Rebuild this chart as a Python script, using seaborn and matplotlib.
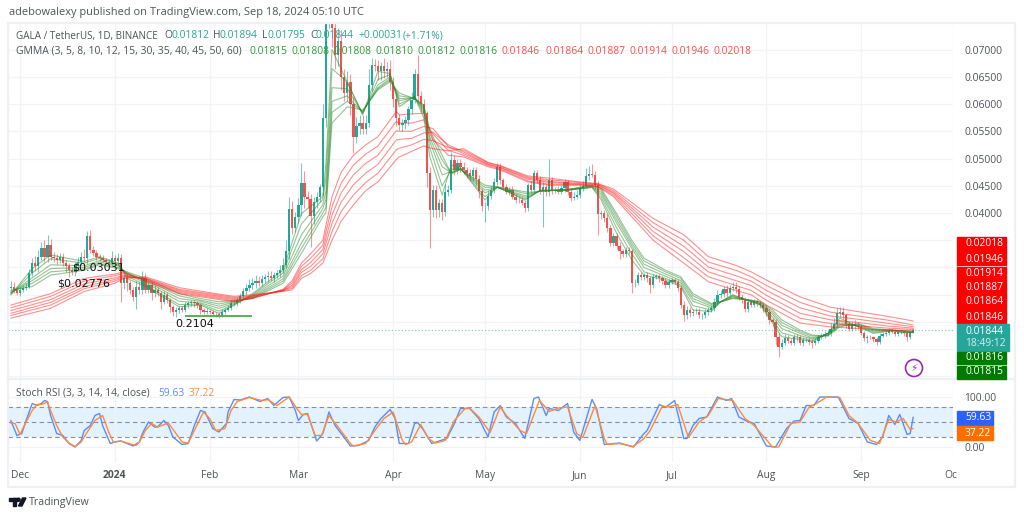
import numpy as np
import pandas as pd
import matplotlib
matplotlib.use('Agg')
import matplotlib.pyplot as plt
from matplotlib.patches import Rectangle, Polygon, Circle
import seaborn as sns

# all prices below are in units of 0.0001, days are counted from 2023-11-28
closes_nov = [265, 259, 253]
closes_dec = [259, 262, 265, 289, 308, 302, 320, 335, 320, 341, 320, 317, 314, 320, 308, 302, 295, 292, 302, 311, 320, 317, 357, 332, 326, 320, 317, 314, 311, 308, 317]
closes_jan = [312, 317, 271, 280, 271, 259, 246, 265, 259, 280, 259, 268, 253, 259, 253, 237, 250, 240, 228, 219, 222, 225, 222, 231, 234, 236, 234, 231, 222, 219, 221]
closes_feb = [218, 215, 214, 212, 218, 222, 226, 235, 234, 240, 248, 256, 262, 268, 272, 276, 272, 278, 282, 285, 280, 286, 290, 296, 305, 330, 408, 372, 392]
closes_mar = [415, 455, 430, 425, 395, 420, 430, 448, 575, 760, 775, 740, 690, 715, 650, 620, 640, 600, 540, 560, 565, 555, 565, 635, 672, 670, 660, 670, 660, 665, 640]
closes_apr = [610, 575, 562, 565, 570, 590, 607, 656, 614, 600, 583, 473, 405, 442, 405, 418, 402, 439, 442, 497, 479, 491, 485, 479, 473, 467, 479, 462, 440, 412]
closes_may = [412, 432, 442, 457, 485, 460, 448, 439, 442, 430, 424, 424, 418, 409, 451, 442, 473, 460, 440, 448, 439, 460, 440, 442, 439, 445, 457, 439, 427, 430, 433]
closes_jun = [445, 450, 467, 472, 470, 452, 399, 400, 390, 372, 345, 358, 340, 330, 325, 333, 330, 272, 272, 286, 283, 286, 280, 268, 283, 284, 280, 276, 268, 274]
closes_jul = [277, 274, 262, 232, 212, 222, 216, 219, 219, 212, 212, 218, 222, 225, 236, 250, 252, 260, 254, 262, 265, 260, 246, 240, 224, 237, 232, 238, 235, 232, 225]
closes_aug = [219, 204, 200, 173, 155, 161, 170, 165, 162, 173, 172, 161, 167, 167, 164, 161, 165, 172, 175, 178, 180, 188, 196, 216, 219, 212, 197, 188, 197, 192, 191]
closes_sep = [180, 170, 173, 172, 168, 163, 175, 178, 180, 184, 182, 178, 182, 182, 180, 172, 181.2, 184.4]

wick_up = ([10, 8, 4]
           + [5, 5, 6, 8, 10, 14, 12, 12, 15, 18, 12, 8, 8, 6, 6, 5, 6, 5, 8, 8, 8, 14, 10, 12, 8, 6, 5, 6, 4, 5, 14]
           + [6, 10, 8, 6, 8, 6, 6, 10, 8, 14, 10, 6, 6, 8, 6, 4, 6, 5, 4, 4, 6, 4, 5, 5, 4, 4, 5, 4, 4, 3, 4]
           + [3, 4, 4, 5, 5, 4, 6, 6, 6, 6, 6, 6, 8, 10, 8, 10, 8, 8, 6, 8, 8, 6, 6, 8, 12, 20, 22, 14, 10]
           + [12, 36, 22, 10, 10, 10, 8, 6, 25, 15, 30, 40, 25, 25, 20, 15, 20, 15, 12, 16, 15, 15, 15, 30, 12, 10, 10, 8, 14, 12, 15]
           + [10, 10, 6, 8, 8, 6, 15, 8, 34, 10, 10, 4, 12, 10, 10, 8, 8, 14, 10, 15, 10, 8, 8, 8, 6, 8, 6, 6, 8, 6]
           + [8, 10, 8, 8, 6, 6, 5, 6, 5, 8, 5, 5, 6, 6, 4, 8, 6, 6, 8, 8, 6, 40, 6, 6, 8, 6, 6, 4, 6, 8, 10]
           + [6, 8, 15, 15, 18, 8, 6, 6, 5, 8, 6, 5, 6, 6, 4, 4, 5, 4, 6, 6, 5, 4, 5, 4, 5, 4, 4, 5, 5, 4]
           + [4, 4, 4, 4, 6, 8, 5, 5, 6, 6, 4, 6, 6, 6, 8, 8, 6, 6, 8, 6, 8, 8, 6, 6, 6, 6, 4, 4, 5, 4, 4]
           + [6, 4, 4, 6, 6, 8, 8, 6, 6, 5, 5, 5, 5, 5, 5, 4, 5, 5, 5, 6, 6, 10, 12, 10, 8, 8, 5, 5, 5, 6, 8]
           + [4, 4, 4, 4, 3, 4, 5, 4, 6, 5, 4, 5, 3, 4, 4, 3, 3, 5])
wick_down = ([6, 5, 3]
             + [6, 4, 4, 3, 5, 8, 10, 6, 10, 10, 6, 6, 8, 5, 6, 10, 12, 6, 8, 6, 6, 6, 10, 5, 5, 6, 5, 4, 5, 5, 5]
             + [6, 6, 34, 10, 14, 8, 8, 22, 8, 8, 6, 6, 12, 8, 6, 14, 4, 6, 10, 8, 10, 6, 4, 4, 6, 4, 6, 6, 8, 4, 4]
             + [4, 3, 4, 4, 2, 3, 2, 4, 5, 4, 5, 6, 6, 6, 8, 10, 6, 6, 6, 8, 4, 6, 5, 8, 6, 6, 14, 10, 6]
             + [10, 20, 20, 15, 57, 15, 10, 10, 15, 18, 20, 35, 25, 20, 25, 15, 15, 20, 30, 12, 15, 10, 10, 8, 12, 10, 15, 15, 12, 10, 15]
             + [15, 15, 10, 12, 10, 8, 8, 6, 10, 14, 10, 25, 70, 12, 15, 12, 15, 8, 8, 6, 10, 8, 10, 8, 8, 8, 8, 10, 12, 8]
             + [28, 6, 6, 5, 6, 6, 4, 4, 6, 4, 6, 6, 4, 8, 6, 6, 6, 5, 6, 65, 8, 8, 6, 4, 4, 4, 6, 6, 5, 4, 4]
             + [6, 5, 4, 6, 4, 8, 39, 10, 6, 6, 6, 6, 6, 14, 6, 5, 6, 19, 8, 5, 6, 6, 6, 15, 5, 5, 6, 6, 6, 5]
             + [4, 5, 6, 6, 10, 6, 6, 5, 5, 5, 6, 4, 5, 4, 4, 4, 6, 6, 8, 5, 6, 6, 6, 6, 6, 6, 5, 5, 5, 6, 6]
             + [8, 8, 10, 16, 19, 4, 4, 4, 5, 4, 6, 4, 5, 4, 6, 8, 4, 4, 4, 4, 4, 6, 4, 6, 6, 6, 8, 5, 5, 5, 4]
             + [4, 4, 8, 4, 4, 5, 4, 3, 4, 3, 3, 4, 4, 4, 5, 6, 3, 1.7])

# GMMA slow group, read at these days
long_days = [0, 13, 24, 34, 37, 44, 55, 66, 73, 79, 89, 92, 95, 98, 102, 105, 108, 112, 116, 120, 126, 127, 131, 135, 138, 143, 148, 156, 160, 169, 176, 186, 192, 197, 204, 210, 220, 228, 237, 242, 247, 258, 268, 277, 286, 295]
ema30 = [231, 252, 280, 288, 292, 275, 252, 243, 237, 243, 260, 276, 308, 325, 350, 430, 475, 506, 525, 540, 586, 580, 582, 583, 535, 506, 503, 485, 479, 457, 451, 451, 448, 430, 387, 350, 308, 274, 258, 250, 231, 198, 191, 188, 185, 184.6]
ema35 = [226, 247, 275, 285, 289, 277, 254, 245, 239, 244, 259, 272, 302, 317, 341, 412, 455, 488, 508, 523, 568, 565, 565, 571, 545, 515, 506, 487, 481, 459, 453, 452, 449, 433, 393, 358, 318, 283, 267, 258, 240, 207, 197, 193, 189, 186.4]
ema40 = [221, 241, 270, 281, 286, 278, 256, 247, 241, 245, 258, 268, 296, 309, 333, 396, 437, 470, 491, 506, 551, 550, 550, 559, 555, 522, 509, 489, 483, 462, 456, 453, 451, 436, 399, 366, 329, 292, 276, 267, 249, 216, 204, 199, 193, 188.7]
ema45 = [216, 236, 265, 278, 284, 280, 258, 249, 243, 247, 258, 265, 291, 302, 325, 381, 420, 452, 473, 489, 534, 535, 537, 547, 548, 525, 512, 490, 484, 464, 458, 454, 452, 438, 404, 374, 339, 301, 285, 275, 258, 226, 211, 205, 198, 191.4]
ema50 = [212, 231, 261, 275, 282, 281, 260, 251, 245, 248, 257, 262, 285, 295, 316, 366, 403, 433, 456, 473, 516, 519, 525, 535, 533, 520, 515, 492, 486, 466, 461, 456, 453, 441, 409, 382, 350, 310, 295, 283, 267, 236, 218, 211, 204, 194.6]
ema60 = [207, 225, 256, 271, 280, 283, 263, 253, 247, 250, 256, 259, 280, 289, 308, 350, 385, 415, 441, 457, 498, 503, 513, 523, 518, 514, 518, 493, 487, 468, 464, 457, 454, 444, 415, 390, 360, 320, 304, 292, 277, 246, 227, 219, 211, 201.8]

# GMMA fast group
short_days = [0, 7, 13, 24, 29, 35, 38, 44, 55, 62, 68, 74, 79, 89, 95, 102, 103, 105, 110, 115, 120, 124, 127, 132, 135, 137, 141, 144, 147, 155, 159, 168, 170, 173, 182, 190, 193, 198, 203, 207, 214, 219, 223, 229, 232, 236, 242, 245, 249, 252, 258, 262, 267, 271, 277, 282, 288, 292, 295]
ema3 = [250, 298, 323, 311, 320, 308, 280, 265, 228, 231, 216, 234, 252, 295, 399, 430, 490, 700, 640, 580, 660, 656, 595, 614, 574, 503, 433, 488, 483, 424, 448, 424, 430, 442, 442, 447, 424, 363, 314, 286, 277, 265, 222, 219, 237, 250, 237, 231, 198, 173, 168, 164, 179, 207, 191, 179, 184, 180, 181.5]
ema5 = [251, 290, 316, 308, 317, 307, 284, 268, 232, 233, 220, 235, 250, 290, 380, 425, 465, 665, 640, 582, 645, 654, 600, 613, 582, 519, 450, 480, 482, 430, 447, 426, 431, 441, 442, 447, 429, 373, 325, 292, 280, 268, 230, 222, 237, 249, 238, 232, 203, 180, 171, 166, 178, 202, 192, 181, 184, 181, 180.8]
ema8 = [253, 281, 305, 303, 313, 305, 287, 272, 238, 235, 225, 236, 248, 284, 360, 415, 440, 630, 628, 584, 635, 650, 606, 612, 588, 531, 470, 476, 481, 437, 447, 429, 432, 441, 442, 448, 434, 382, 335, 300, 284, 272, 238, 226, 237, 247, 238, 233, 209, 188, 175, 169, 177, 198, 193, 183, 185, 182, 180.8]
ema10 = [254, 276, 298, 300, 310, 303, 289, 275, 243, 238, 229, 238, 246, 279, 345, 408, 425, 605, 615, 585, 630, 647, 610, 611, 592, 538, 485, 474, 481, 442, 447, 432, 434, 440, 443, 449, 438, 388, 340, 306, 288, 276, 243, 229, 237, 246, 239, 235, 214, 194, 179, 171, 176, 195, 194, 185, 185, 183, 181.0]
ema12 = [255, 271, 292, 297, 307, 300, 290, 277, 248, 240, 233, 239, 244, 275, 335, 400, 410, 585, 605, 587, 628, 644, 615, 611, 595, 545, 497, 473, 480, 447, 448, 436, 436, 440, 443, 450, 442, 394, 345, 312, 292, 280, 248, 232, 237, 244, 240, 236, 218, 199, 182, 174, 175, 193, 196, 186, 185, 183, 181.2]
ema15 = [258, 265, 286, 295, 305, 298, 292, 280, 252, 243, 237, 240, 243, 271, 326, 393, 400, 565, 595, 589, 626, 641, 620, 610, 598, 552, 506, 472, 480, 451, 448, 439, 438, 440, 443, 451, 445, 399, 350, 317, 295, 283, 252, 234, 237, 243, 240, 237, 222, 204, 185, 176, 174, 191, 197, 188, 185, 184, 181.6]

# Stoch RSI
k_days = [0, 2, 3.6, 5, 7, 8.5, 10, 11, 12, 13, 15, 17, 19, 21, 23, 24, 26, 27.5, 29, 30, 32.5, 34, 36, 38, 40, 42, 43, 45, 47, 48, 50, 51.5, 53, 56, 58, 60, 62, 63.5, 66, 68, 70.5, 71, 73, 75, 78, 81.5, 84, 86, 89, 91, 93, 94, 95.6, 97, 100, 102, 104, 106, 108, 111, 113.6, 117, 119, 121, 124, 125.6, 127, 130, 132, 133, 135, 137.6, 140, 142.5, 144.7, 147, 150, 153, 156, 158, 160, 162, 165, 168, 171, 172.5, 175, 176, 179, 182, 184, 186, 190, 191.5, 194, 199, 203.5, 207, 208, 212, 214, 217, 220, 221, 223, 225, 227.5, 231, 234, 235.6, 238, 240.5, 243, 247, 250, 253.6, 256, 258, 260, 262.5, 264.5, 270.5, 274, 277, 280, 283, 285, 287, 289, 290.6, 293, 294, 295]
k_vals = [53, 23, 27, 53, 87, 83, 87, 93, 91, 63, 27, 23, 7, 0, 13, 33, 43, 63, 67, 43, 7, 10, 12, 7, 2, 10, 27, 50, 40, 40, 53, 43, 20, 5, 7, 43, 73, 70, 37, 30, 47, 70, 95, 94, 100, 91, 97, 83, 99, 100, 73, 53, 65, 67, 12, 27, 70, 43, 27, 2, 3, 13, 40, 57, 75, 57, 7, 7, 47, 49, 33, 7, 12, 17, 43, 77, 77, 57, 20, 70, 83, 60, 47, 17, 97, 100, 63, 77, 73, 87, 30, 13, 95, 77, 5, 8, 0, 27, 33, 85, 79, 93, 17, 17, 43, 57, 60, 100, 93, 97, 60, 52, 47, 2, 0, 37, 52, 53, 83, 83, 100, 100, 57, 47, 10, 5, 20, 63, 45, 65, 25, 27, 59.63]
d_days = [0, 1.4, 3, 5, 7, 8.5, 10, 12, 13, 15, 17, 19, 21, 23, 25, 27.5, 30, 32, 33.5, 36, 38, 41, 42, 44, 46, 48, 51.5, 54, 56, 58, 60, 63, 65, 67, 70, 72, 74, 78, 82, 84, 87, 91, 93.5, 95, 97, 99.5, 101.6, 104, 107, 111, 112, 116, 119, 122, 125, 128, 129, 131, 134, 136.5, 138.7, 142, 145, 148.5, 150, 153, 156.7, 160, 162, 166.5, 168.6, 172.8, 176, 179, 182, 185, 187, 191, 194, 195, 199, 203.5, 207, 209, 213, 215, 218, 221.5, 225, 228, 231.3, 236, 240, 243, 249, 251, 255, 258, 261, 263.4, 266.7, 271, 274, 277, 281, 284, 287, 289.5, 291.7, 294, 295]
d_vals = [48, 47, 25, 50, 73, 85, 85, 90, 73, 43, 20, 8, 1, 10, 30, 53, 63, 30, 10, 12, 8, 3, 10, 33, 47, 40, 48, 27, 10, 8, 33, 70, 57, 33, 37, 73, 91, 99, 93, 95, 83, 100, 77, 65, 65, 23, 23, 63, 40, 7, 2, 7, 33, 57, 70, 13, 5, 10, 45, 17, 8, 13, 53, 77, 78, 60, 29, 80, 63, 33, 27, 93, 71, 78, 80, 27, 19, 83, 17, 5, 7, 1, 17, 33, 82, 80, 85, 19, 50, 63, 97, 93, 57, 43, 0, 0, 47, 50, 80, 87, 100, 99, 63, 47, 13, 7, 55, 50, 57, 35, 37.22]

price_ticks = [0.01, 0.015, 0.02, 0.025, 0.03, 0.035, 0.04, 0.045, 0.05, 0.055, 0.06, 0.065, 0.07]
tick_dates = ['2023-12-01', '2024-01-01', '2024-02-01', '2024-03-01', '2024-04-01', '2024-05-01', '2024-06-01', '2024-07-01', '2024-08-01', '2024-09-01', '2024-10-01']
tick_labels = ['Dec', '2024', 'Feb', 'Mar', 'Apr', 'May', 'Jun', 'Jul', 'Aug', 'Sep', 'Oct']
short_names = ['0.01815', '0.01808', '0.01808', '0.01810', '0.01812', '0.01816']
long_names = ['0.01846', '0.01864', '0.01887', '0.01914', '0.01946', '0.02018']

sns.set_theme(style='white')
plt.rcParams['font.family'] = ['Open Sans', 'DejaVu Sans']

GRID = '#f2f3f6'
TEXT = '#4f5359'
TEAL = '#26a69a'
RED = '#ef5350'
W, H = 1024, 517


def pane(left, top, right, bottom):
    return fig.add_axes([left / W, 1 - bottom / H, (right - left) / W, (bottom - top) / H])


fig = plt.figure(figsize=(10.24, 5.17), dpi=100, facecolor='white')
ax = pane(8, 23, 953, 378)
ax2 = pane(8, 380, 953, 462)

# candles
close = np.array(closes_nov + closes_dec + closes_jan + closes_feb + closes_mar + closes_apr
                 + closes_may + closes_jun + closes_jul + closes_aug + closes_sep) * 1e-4
open_ = np.r_[0.0262, close[:-1]]
high = np.maximum(open_, close) + np.array(wick_up) * 1e-4
low = np.minimum(open_, close) - np.array(wick_down) * 1e-4
days = np.arange(len(close))
colors = np.where(close >= open_, TEAL, RED)
ax.vlines(days, low, high, colors=colors, linewidth=0.8, alpha=0.6, zorder=2)
ax.bar(days, np.abs(close - open_), bottom=np.minimum(open_, close), width=0.75, color=colors, linewidth=0, zorder=2)

# GMMA ribbons
short_df = pd.DataFrame({'day': short_days, '3': ema3, '5': ema5, '8': ema8, '10': ema10, '12': ema12, '15': ema15}).melt('day', var_name='ema', value_name='price')
long_df = pd.DataFrame({'day': long_days, '30': ema30, '35': ema35, '40': ema40, '45': ema45, '50': ema50, '60': ema60}).melt('day', var_name='ema', value_name='price')
short_df['price'] *= 1e-4
long_df['price'] *= 1e-4
sns.lineplot(data=short_df, x='day', y='price', hue='ema', palette=['#2e8b2e'] * 6, linewidth=0.8, alpha=0.5, legend=False, ax=ax, zorder=3)
sns.lineplot(data=long_df, x='day', y='price', hue='ema', palette=['#ff2020'] * 6, linewidth=0.8, alpha=0.5, legend=False, ax=ax, zorder=3)

ax.hlines(0.0211, 57, 79, color='#3aa33a', linewidth=1.2, zorder=4)
ax.axhline(close[-1], color='#7fc4bd', linewidth=0.8, linestyle=(0, (1, 2)), zorder=1)

# stochastic pane
ax2.axhspan(20, 80, color='#e3f2fd', linewidth=0, zorder=0.5)
for level in [80, 50, 20]:
    ax2.axhline(level, color='#8a8e96', linewidth=0.8, linestyle=(0, (4, 3)), zorder=1)
k_df = pd.DataFrame({'day': k_days, 'value': k_vals})
d_df = pd.DataFrame({'day': d_days, 'value': d_vals})
sns.lineplot(data=k_df, x='day', y='value', color='#5b8cff', linewidth=1.0, ax=ax2, zorder=3)
sns.lineplot(data=d_df, x='day', y='value', color='#ff8a3d', linewidth=1.0, ax=ax2, zorder=4)

# axes
start = pd.Timestamp('2023-11-28')
tick_days = [(pd.Timestamp(d) - start).days for d in tick_dates]
for a in (ax, ax2):
    a.set_xlim(-0.92, 307.9)
    a.set_xticks(tick_days)
    a.grid(True, color=GRID, linewidth=0.9)
    a.set_axisbelow(True)
    a.set_xlabel('')
    a.set_ylabel('')
    a.yaxis.tick_right()
    for s in a.spines.values():
        s.set_visible(False)
    a.tick_params(length=0, labelsize=7.4, labelcolor=TEXT)

ax.set_ylim(0.00972, 0.07487)
ax.set_yticks(price_ticks)
ax.set_yticklabels([f'{p:.5f}' if p >= 0.04 else '' for p in price_ticks])
ax.tick_params(axis='x', labelbottom=False)
ax.tick_params(axis='y', pad=8)

ax2.set_ylim(-30, 134)
ax2.set_yticks([0, 100])
ax2.set_yticklabels(['0.00', '100.00'])
ax2.tick_params(axis='y', pad=8)
ax2.set_xticklabels(tick_labels)
ax2.tick_params(axis='x', pad=5.5)
ax2.get_xticklabels()[1].set_fontweight('bold')

# overlay in pixel coordinates for the TradingView chrome
ov = fig.add_axes([0, 0, 1, 1], facecolor='none')
ov.set_xlim(0, W)
ov.set_ylim(H, 0)
ov.axis('off')

ov.add_patch(Rectangle((7.5, 22.5), 1007.5, 464, fill=False, edgecolor='#eef0f5', linewidth=1.6))
ov.plot([8, 1015], [379, 379], color='#eef0f5', linewidth=1.6)
ov.add_patch(Rectangle((957, 463), 40, 22, color='white', zorder=2))


def t(x, y, s, color=TEXT, size=7.4, **kw):
    ov.text(x, y, s, color=color, fontsize=size, va='center', zorder=6, **kw)


t(9, 13, 'adebowalexy published on TradingView.com, Sep 18, 2024 05:10 UTC', size=7.95)
t(16, 36, 'GALA / TetherUS, 1D, BINANCE', size=7.1)
for x, s in [(164, 'O'), (213, 'H'), (262, 'L'), (310, 'C')]:
    t(x, 36, s)
for x, s in [(171, '0.01812'), (220, '0.01894'), (268, '0.01795'), (315, '0.01844'), (358, '+0.00031'), (403, '(+1.71%)')]:
    t(x, 36, s, color=TEAL)
t(16, 51, 'GMMA (3, 5, 8, 10, 12, 15, 30, 35, 40, 45, 50, 60)', size=7.5)
for x, s in zip([249, 291, 333, 376, 418, 460], short_names):
    t(x, 51, s, color='#2e9e36')
for x, s in zip([502, 545, 587, 629, 672, 713], long_names):
    t(x, 51, s, color='#ff4d4d')

t(16, 393, 'Stoch RSI (3, 3, 14, 14, close)')
t(158, 393, '59.63', color='#5b8cff')
t(189, 393, '37.22', color='#ff8a3d')

t(72, 267, '$0.03031', color='#111111', size=8, family='DejaVu Sans')
t(57, 284, '$0.02776', color='#111111', size=8, family='DejaVu Sans')
t(175, 324, '0.2104', color='#111111', size=8, family='DejaVu Sans')

# price tags on the right scale
ov.add_patch(Rectangle((957, 237), 49, 86, color='#ff0000', zorder=4))
ov.plot([957, 1006], [266, 266], color='#ffd0d0', linewidth=0.6, zorder=5)
for y, s in zip([244, 259, 273, 288, 302, 317], long_names[::-1]):
    t(965, y, s, color='white')
ov.add_patch(Rectangle((957, 324), 52, 27, color=TEAL, zorder=4))
t(965, 331, '0.01844', color='white')
t(965, 344, '18:49:12', color='#d5efec')
ov.add_patch(Rectangle((957, 351.5), 49, 12.5, color='#007a00', zorder=4))
t(965, 358, '0.01816', color='white')
ov.add_patch(Rectangle((957, 365.5), 49, 13.5, color='#007a00', zorder=4))
t(965, 372, '0.01815', color='white')
ov.add_patch(Rectangle((957, 411), 36, 14.5, color='#2962ff', zorder=4))
t(965, 418, '59.63', color='white')
ov.add_patch(Rectangle((957, 425.5), 36, 14.5, color='#ff6d00', zorder=4))
t(965, 433, '37.22', color='white')

# lightning badge
ov.add_patch(Circle((914, 368), 8.5, fill=False, edgecolor='#9c27b0', linewidth=1.2, zorder=5))
t(914, 368, '\u26a1', color='#9c27b0', size=7.5, ha='center', family='DejaVu Sans')

# footer logo
ov.add_patch(Rectangle((9, 498), 7.5, 3, color='#131722'))
ov.add_patch(Rectangle((12.5, 498), 3.5, 8, color='#131722'))
ov.add_patch(Circle((18.5, 499.8), 1.6, color='#131722'))
ov.add_patch(Polygon([(18.5, 506), (22.5, 498), (26, 498), (22, 506)], color='#131722'))
t(29, 502.5, 'TradingView', size=7.7)

fig.savefig('out.png', dpi=100)
